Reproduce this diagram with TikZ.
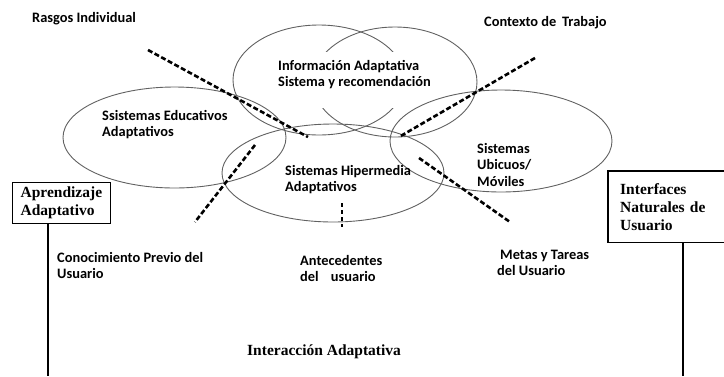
\documentclass[tikz,border=0pt]{standalone}
\usepackage{fontspec}
\setmainfont{Liberation Serif}
\newfontfamily\etiq{Carlito}

\begin{document}
\begin{tikzpicture}[x=1pt, y=-1pt,
  elipse/.style={draw=black!62, line width=0.9pt},
  guia/.style={line width=2.6pt, dash pattern=on 5pt off 2.5pt},
  guiafina/.style={line width=1.3pt, dash pattern=on 4pt off 3pt},
  etiqueta/.style={anchor=west, inner sep=0pt, align=left, font=\etiq\bfseries\fontsize{14.4}{16}\selectfont},
  caja/.style={anchor=north west, align=left, font=\bfseries\fontsize{15.5}{18}\selectfont},
  linea/.style={line width=1.4pt}]
\useasboundingbox (0,0) rectangle (724,376);

\draw[elipse] (319,80) ellipse [x radius=86, y radius=55];
\draw[elipse] (395,82) ellipse [x radius=82, y radius=55];
\draw[elipse] (174.5,137.5) ellipse [x radius=111.5, y radius=50.5];
\draw[elipse] (333,173) ellipse [x radius=111, y radius=49];
\draw[elipse] (501,141) ellipse [x radius=111, y radius=51];
\fill[white] (305,52) rectangle (412,108);

\node[etiqueta] (info) at (278,75) {Información Adaptativa\\Sistema y recomendación};
\node[etiqueta] (educ) at (102,125) {Ssistemas Educativos\\Adaptativos};
\node[etiqueta] (hiper) at (285,179.5) {Sistemas Hipermedia\\Adaptativos};
\node[etiqueta, font=\etiq\bfseries\fontsize{14.4}{16.5}\selectfont] (ubic) at (477,164.5) {Sistemas\\Ubicuos/\\Móviles};

\node[etiqueta] (rasgos) at (32,19) {Rasgos Individual};
\node[etiqueta] (contexto) at (484,23) {Contexto de\, Trabajo};
\node[etiqueta] (conoc) at (57,265.5) {Conocimiento Previo del\\Usuario};
\node[etiqueta] (antec) at (300,268.5) {Antecedentes\\del\hspace{9pt} usuario};
\node[etiqueta] (metas) at (497,262.5) {\hspace*{3pt}Metas y Tareas\\del Usuario};

\node[caja, draw, line width=1.3pt, inner xsep=8pt, minimum height=41pt] (aprend) at (12,182) {Aprendizaje\\Adaptativo};
\node[caja, text width=92pt, inner xsep=12pt, minimum height=71pt] (interf) at (608,171) {Interfaces\\Naturales de\\Usuario};
\draw[line width=1.3pt] (interf.north east) -- (interf.north west) -- (interf.south west) -- (interf.south east);
\node[caja, anchor=west, inner sep=0pt] (interac) at (247,352) {Interacción Adaptativa};

\coordinate (aprendFin) at (48,376);
\coordinate (interfFin) at (683,376);
\draw[linea] (aprend.south -| aprendFin) -- (aprendFin);
\draw[linea] (interf.south -| interfFin) -- (interfFin);

\coordinate (rasgosA) at (148,50);
\coordinate (rasgosB) at (308,137);
\coordinate (contextoA) at (535,58);
\coordinate (contextoB) at (399,137);
\coordinate (conocA) at (255,145);
\coordinate (conocB) at (195,222);
\coordinate (metasA) at (419,158);
\coordinate (metasB) at (510,222);
\coordinate (antecA) at (342,203);
\coordinate (antecB) at (342,227);
\draw[guia] (rasgosA) -- (rasgosB);
\draw[guia] (contextoA) -- (contextoB);
\draw[guia] (conocA) -- (conocB);
\draw[guia] (metasA) -- (metasB);
\draw[guiafina] (antecA) -- (antecB);
\end{tikzpicture}
\end{document}
